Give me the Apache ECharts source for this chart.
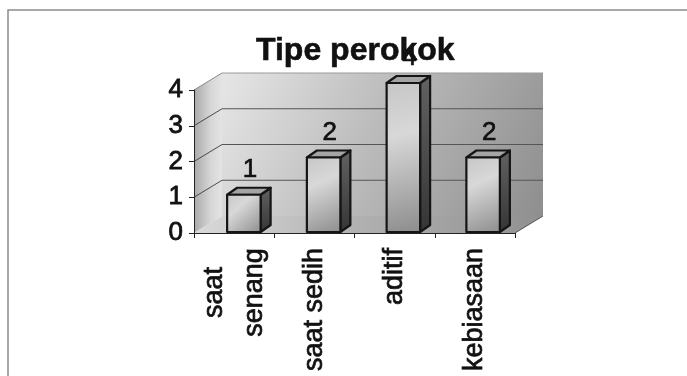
<!DOCTYPE html>
<html>
<head>
<meta charset="utf-8">
<script src="https://cdn.jsdelivr.net/npm/echarts@6/dist/echarts.min.js"></script>
<style>
  html, body { margin: 0; padding: 0; background: #ffffff; }
  #chart { width: 687px; height: 376px; }
</style>
</head>
<body>
<div id="chart"></div>
<script>
// Smoker types survey: count per category
const categories = ['saat\nsenang', 'saat sedih', 'aditif', 'kebiasaan'];
const counts = [1, 2, 4, 2];
const yTicks = [0, 1, 2, 3, 4];
const titleText = 'Tipe perokok';

const FONT = '"Liberation Sans", Arial, Helvetica, sans-serif';
const INK = '#111111';
const WALL_DEPTH = [28, -17];   // offset from the front plane to the back wall
const BAR_DEPTH = [10, -7];     // depth of each prism
const BAR_RATIO = 0.42;         // front face width as share of a category

const chart = echarts.init(document.getElementById('chart'), null, { renderer: 'canvas' });

function shift(p, d, k) {
  k = k == null ? 1 : k;
  return [p[0] + d[0] * k, p[1] + d[1] * k];
}

// Walls and floor of the 3D frame, on the front-plane grid
function renderWalls(params, api) {
  const yMax = yTicks[yTicks.length - 1];
  const n = categories.length;
  const p00 = api.coord([0, 0]);
  const pN0 = api.coord([n, 0]);
  const p0M = api.coord([0, yMax]);
  const pNM = api.coord([n, yMax]);
  const D = WALL_DEPTH;
  return {
    type: 'group',
    children: [
      {
        type: 'polygon',
        shape: { points: [shift(p0M, D), shift(pNM, D), shift(pN0, D), shift(p00, D)] },
        style: {
          fill: new echarts.graphic.LinearGradient(0, 0, 1, 1, [
            { offset: 0, color: '#e6e6e6' },
            { offset: 0.45, color: '#bcbcbc' },
            { offset: 1, color: '#8e8e8e' }
          ])
        }
      },
      {
        type: 'line',
        shape: { x1: p0M[0] + D[0], y1: p0M[1] + D[1], x2: pNM[0] + D[0], y2: pNM[1] + D[1] },
        style: { stroke: '#9a9a9a', lineWidth: 1 }
      },
      {
        type: 'polygon',
        shape: { points: [p00, p0M, shift(p0M, D), shift(p00, D)] },
        style: {
          fill: new echarts.graphic.LinearGradient(0, 0, 1, 0, [
            { offset: 0, color: '#a9a9a9' },
            { offset: 0.6, color: '#d6d6d6' },
            { offset: 1, color: '#e4e4e4' }
          ])
        }
      },
      {
        type: 'polygon',
        shape: { points: [p00, pN0, shift(pN0, D), shift(p00, D)] },
        style: {
          fill: new echarts.graphic.LinearGradient(1, 0, 0, 1, [
            { offset: 0, color: '#909090' },
            { offset: 0.55, color: '#b2b2b2' },
            { offset: 1, color: '#dadada' }
          ])
        }
      },
      {
        type: 'line',
        shape: { x1: pN0[0], y1: pN0[1], x2: pN0[0] + D[0], y2: pN0[1] + D[1] },
        style: { stroke: '#555555', lineWidth: 1 }
      }
    ]
  };
}

// Gridlines: diagonal on the side wall, horizontal on the back wall
function renderGridlines(params, api) {
  const v = api.value(0);
  if (v === 0 || v === yTicks[yTicks.length - 1]) {
    if (v === 0) return null;
  }
  const n = categories.length;
  const pa = api.coord([0, v]);
  const pb = shift(pa, WALL_DEPTH);
  const pc = shift(api.coord([n, v]), WALL_DEPTH);
  const top = v === yTicks[yTicks.length - 1];
  const children = [
    {
      type: 'line',
      shape: { x1: pa[0], y1: pa[1], x2: pb[0], y2: pb[1] },
      style: { stroke: top ? '#8a8a8a' : '#4a4a4a', lineWidth: 1 }
    }
  ];
  if (!top) {
    children.push({
      type: 'line',
      shape: { x1: pb[0], y1: pb[1], x2: pc[0], y2: pc[1] },
      style: { stroke: '#555555', lineWidth: 1 }
    });
  }
  return { type: 'group', children: children };
}

// 3D prism bars with value labels
function renderBar(params, api) {
  const cat = api.value(0);
  const val = api.value(1);
  const top = api.coord([cat, val]);
  const base = api.coord([cat, 0]);
  const bw = api.size([1, 0])[0] * BAR_RATIO;
  const x0 = top[0] - bw / 2;
  const x1 = top[0] + bw / 2;
  const yt = top[1];
  const yb = base[1];
  const dx = BAR_DEPTH[0], dy = BAR_DEPTH[1];
  const edge = { stroke: '#151515', lineWidth: 2.2, lineJoin: 'round' };
  return {
    type: 'group',
    children: [
      {
        type: 'polygon',
        shape: { points: [[x1, yt], [x1 + dx, yt + dy], [x1 + dx, yb + dy], [x1, yb]] },
        style: Object.assign({
          fill: new echarts.graphic.LinearGradient(0, 0, 0, 1, [
            { offset: 0, color: '#626262' },
            { offset: 1, color: '#353535' }
          ])
        }, edge)
      },
      {
        type: 'polygon',
        shape: { points: [[x0, yt], [x0 + dx, yt + dy], [x1 + dx, yt + dy], [x1, yt]] },
        style: Object.assign({ fill: '#a4a4a4' }, edge)
      },
      {
        type: 'rect',
        shape: { x: x0, y: yt, width: bw, height: yb - yt },
        style: Object.assign({
          fill: new echarts.graphic.LinearGradient(0, 0, 1, 1, [
            { offset: 0, color: '#c6c6c6' },
            { offset: 0.35, color: '#d8d8d8' },
            { offset: 1, color: '#8c8c8c' }
          ])
        }, edge)
      },
      {
        type: 'text',
        x: top[0] + dx / 2 + 1,
        y: yt + dy - 5,
        style: {
          text: String(val),
          font: '26px ' + FONT,
          fill: INK,
          stroke: INK,
          lineWidth: 0.7,
          align: 'center',
          verticalAlign: 'bottom'
        },
        z2: 20
      }
    ]
  };
}

const option = {
  backgroundColor: '#ffffff',
  animation: false,
  title: {
    text: titleText,
    left: 251,
    top: 30,
    textStyle: {
      fontFamily: FONT, fontSize: 32, fontWeight: 'bold', color: INK,
      textBorderColor: INK, textBorderWidth: 0.6
    }
  },
  graphic: [
    {
      type: 'polyline',
      shape: { points: [[8, 380], [8, 10], [690, 10]] },
      style: { stroke: '#8c8c8c', lineWidth: 1.5, fill: null },
      silent: true
    }
  ],
  grid: [
    { left: 194, top: 90, width: 321, height: 143, outerBoundsMode: 'none', containLabel: false },
    { left: 204, top: 83, width: 319, height: 149, outerBoundsMode: 'none', containLabel: false }
  ],
  xAxis: [
    {
      type: 'category',
      gridIndex: 0,
      data: categories,
      boundaryGap: true,
      axisLine: { show: true, lineStyle: { color: '#222222', width: 1 } },
      axisTick: { show: true, length: 5, interval: 0, alignWithLabel: false, lineStyle: { color: '#222222' } },
      splitLine: { show: false },
      axisLabel: {
        interval: 0,
        rotate: 90,
        margin: 15,
        hideOverlap: false,
        fontFamily: FONT,
        fontSize: 27,
        color: INK,
        textBorderColor: INK,
        textBorderWidth: 0.7,
        lineHeight: 40,
        formatter: function (v) {
          if (v.indexOf('\n') < 0) return v;
          return v.split('\n').map(function (s) { return '{c|' + s + '}'; }).join('\n');
        },
        rich: {
          c: {
            width: 89, align: 'center', fontFamily: FONT, fontSize: 27, lineHeight: 40,
            color: INK, textBorderColor: INK, textBorderWidth: 0.7
          }
        }
      },
      z: 5
    },
    {
      type: 'value',
      gridIndex: 0,
      min: 0,
      max: categories.length,
      show: false
    },
    {
      type: 'category',
      gridIndex: 1,
      data: categories,
      show: false
    }
  ],
  yAxis: [
    {
      type: 'value',
      gridIndex: 0,
      min: 0,
      max: 4,
      interval: 1,
      axisLine: { show: true, lineStyle: { color: '#222222', width: 1 } },
      axisTick: { show: true, length: 5, lineStyle: { color: '#222222' } },
      splitLine: { show: false },
      axisLabel: {
        margin: 11,
        fontFamily: FONT,
        fontSize: 26,
        color: INK,
        textBorderColor: INK,
        textBorderWidth: 0.8,
        formatter: function (v) { return String(v); }
      },
      z: 5
    },
    {
      type: 'value',
      gridIndex: 1,
      min: 0,
      max: 4,
      interval: 1,
      show: false
    }
  ],
  series: [
    {
      type: 'custom',
      name: 'walls',
      xAxisIndex: 1,
      yAxisIndex: 0,
      data: [[0]],
      renderItem: renderWalls,
      silent: true,
      z: 1
    },
    {
      type: 'custom',
      name: 'gridlines',
      xAxisIndex: 1,
      yAxisIndex: 0,
      data: yTicks.map(function (t) { return [t]; }),
      encode: { y: 0 },
      renderItem: renderGridlines,
      silent: true,
      z: 2
    },
    {
      type: 'custom',
      name: 'Tipe perokok',
      xAxisIndex: 2,
      yAxisIndex: 1,
      data: counts.map(function (c, i) { return [i, c]; }),
      encode: { x: 0, y: 1 },
      renderItem: renderBar,
      z: 10
    }
  ]
};

chart.setOption(option);
</script>
</body>
</html>
